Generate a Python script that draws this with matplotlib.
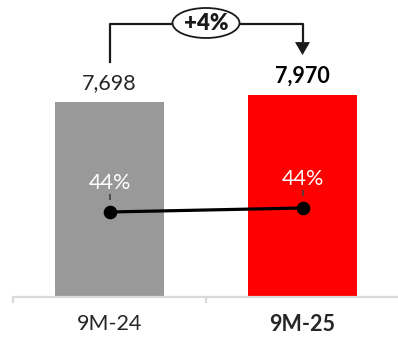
import matplotlib
matplotlib.use("Agg")
import matplotlib.pyplot as plt
from matplotlib.patches import Ellipse, Polygon
from matplotlib.lines import Line2D
from matplotlib.transforms import offset_copy

# Data
categories = ["9M-24", "9M-25"]
revenue = [7698, 7970]
margin = [0.436, 0.444]
bar_colors = ["#999999", "#ff0000"]

plt.rcParams["font.family"] = ["Lato", "DejaVu Sans"]

W, H, DPI = 398, 337, 100
fig = plt.figure(figsize=(W / DPI, H / DPI), dpi=DPI)
ax = fig.add_axes([13 / W, 40 / H, 386 / W, 297 / H])

x = list(range(len(categories)))
ax.bar(x, revenue, width=0.56, color=bar_colors, zorder=2)
ax.set_xlim(-0.5, 1.5)
ax.set_ylim(0, revenue[0] * 297 / 195)

for s in ["top", "right", "left"]:
    ax.spines[s].set_visible(False)
ax.spines["bottom"].set_color("#d9d9d9")
ax.spines["bottom"].set_linewidth(1.6)
ax.set_yticks([])

ax.set_xticks(x)
ax.set_xticklabels(categories, fontsize=15.5, color="#262626")
ax.get_xticklabels()[1].set_fontweight("bold")
ax.tick_params(axis="x", which="major", length=0, pad=12.5)
ax.set_xticks([-0.5, 0.5], minor=True)
ax.tick_params(axis="x", which="minor", length=4.5, width=1.6, color="#d9d9d9")

# Value labels above bars
for i, v in enumerate(revenue):
    ax.annotate(f"{v:,}", (i, v), xytext=(0, 13.5), textcoords="offset points",
                ha="center", va="center", fontsize=15.5,
                fontweight="bold" if i == 1 else "normal",
                color="#000000" if i == 1 else "#262626")

# Margin line on a hidden secondary axis
ax2 = ax.twinx()
ax2.set_ylim(0.266, 0.266 + 297 * 0.002)
ax2.axis("off")
ax2.plot(x, margin, color="black", lw=2.3, marker="o", markersize=8.8, zorder=3)
tick_tr = offset_copy(ax2.transData, fig=fig, x=0, y=14.5, units="dots")
ax2.plot(x, margin, ls="none", marker="|", markersize=3.8, mew=1.2,
         color="#404040", transform=tick_tr)
for i, m in enumerate(margin):
    ax2.annotate(f"{m:.0%}", (i, m), xytext=(0, 21), textcoords="offset points",
                 ha="center", va="center", fontsize=15.5, color="white")

# Growth bracket with arrow
fig.canvas.draw()
p0 = ax.transData.transform((0, revenue[0]))
p1 = ax.transData.transform((1, revenue[1]))
top_y = ax.transAxes.transform((0, (297 - 24) / 297))[1]
gap = 40
x0, x1 = p0[0], p1[0]
y_start = p0[1] + gap
y_tip = p1[1] + gap
head_h, head_w = 13, 15
fig.add_artist(Line2D([x0, x0, x1, x1], [y_start, top_y, top_y, y_tip + head_h],
                      transform=None, color="#1a1a1a", lw=1.6))
fig.add_artist(Polygon([[x1 - head_w / 2, y_tip + head_h], [x1 + head_w / 2, y_tip + head_h],
                        [x1, y_tip]], closed=True, transform=None,
                       facecolor="#1a1a1a", edgecolor="none"))
xm = (x0 + x1) / 2
fig.add_artist(Ellipse((xm, top_y + 1), 67, 30, transform=None,
                       facecolor="white", edgecolor="#1a1a1a", lw=1.3, zorder=5))
growth = revenue[1] / revenue[0] - 1
fig.text(xm, top_y + 1, f"+{growth:.0%}", transform=None, ha="center", va="center",
         fontsize=16, fontweight="heavy", color="#1a1a1a", zorder=6)

fig.savefig("out.png", dpi=DPI)
